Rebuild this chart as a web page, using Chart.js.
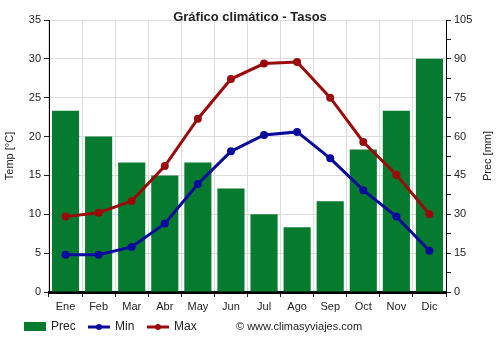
<!DOCTYPE html>
<html>
<head>
<meta charset="utf-8">
<script src="https://cdn.jsdelivr.net/npm/chart.js@4/dist/chart.umd.min.js"></script>
<style>
  html, body { margin: 0; padding: 0; background: #fff; }
  #wrap { width: 500px; height: 350px; position: relative; }
</style>
</head>
<body>
<div id="wrap"><canvas id="clima"></canvas></div>
<script>
/* Climate chart: monthly precipitation bars + min/max temperature lines */

const MONTHS = ['Ene','Feb','Mar','Abr','May','Jun','Jul','Ago','Sep','Oct','Nov','Dic'];
const PREC   = [70, 60, 50, 45, 50, 40, 30, 25, 35, 55, 70, 90];
const T_MIN  = [4.8, 4.8, 5.8, 8.8, 13.9, 18.1, 20.2, 20.6, 17.2, 13.1, 9.7, 5.3];
const T_MAX  = [9.7, 10.2, 11.7, 16.2, 22.3, 27.4, 29.4, 29.6, 25.0, 19.3, 15.1, 10.0];

const TEMP_MAX = 35, TEMP_STEP = 5;
const PREC_MAX = 105, PREC_STEP = 7.5, PREC_LABEL_STEP = 15;

const TITLE  = 'Gráfico climático - Tasos';
const CREDIT = '© www.climasyviajes.com';

const GREEN = '#067b30';
const BLUE  = '#0a0a9c';
const RED   = '#9b0a0a';
const INK   = '#222';
const GRID  = '#dcdcdc';
const FONT  = "'Liberation Sans', Arial, sans-serif";

// title + bottom legend are painted by hand so they can sit where the layout wants them
const decor = {
  id: 'decor',
  afterDraw(chart){
    const ctx = chart.ctx;
    ctx.save();
    ctx.fillStyle = INK;
    ctx.font = 'bold 13px ' + FONT;
    ctx.textAlign = 'center';
    ctx.textBaseline = 'middle';
    ctx.fillText(TITLE, 250, 17);

    // axis titles
    ctx.font = '11px ' + FONT;
    const midY = (chart.chartArea.top + chart.chartArea.bottom) / 2;
    ctx.save(); ctx.translate(10, midY); ctx.rotate(-Math.PI/2);
    ctx.fillText('Temp [°C]', 0, 0); ctx.restore();
    ctx.save(); ctx.translate(488, midY); ctx.rotate(-Math.PI/2);
    ctx.fillText('Prec [mm]', 0, 0); ctx.restore();

    // legend row
    const y = 327;
    ctx.font = '12px ' + FONT;
    ctx.textAlign = 'left';
    const ds = chart.data.datasets;
    const slots = [24, 88, 147];
    ds.forEach((d, i) => {
      const x = slots[i];
      if (d.type === 'bar') {
        ctx.fillStyle = d.backgroundColor;
        ctx.fillRect(x, y - 5, 22, 9);
      } else {
        ctx.strokeStyle = d.borderColor;
        ctx.lineWidth = 3;
        ctx.beginPath(); ctx.moveTo(x, y); ctx.lineTo(x + 22, y); ctx.stroke();
        ctx.fillStyle = d.borderColor;
        ctx.beginPath(); ctx.arc(x + 11, y, 3, 0, Math.PI*2); ctx.fill();
      }
      ctx.fillStyle = INK;
      ctx.fillText(d.label, x + 27, y);
    });
    ctx.font = '11px ' + FONT;
    ctx.fillText(CREDIT, 236, y);
    ctx.restore();
  }
};

new Chart(document.getElementById('clima'), {
  data: {
    labels: MONTHS,
    datasets: [
      { type: 'bar', label: 'Prec', data: PREC, yAxisID: 'yPrec',
        backgroundColor: GREEN, barPercentage: 0.82, categoryPercentage: 1, order: 3 },
      { type: 'line', label: 'Min', data: T_MIN, yAxisID: 'yTemp',
        borderColor: BLUE, backgroundColor: BLUE, borderWidth: 3,
        pointRadius: 4, pointBorderWidth: 0, pointHoverRadius: 4, tension: 0, order: 2 },
      { type: 'line', label: 'Max', data: T_MAX, yAxisID: 'yTemp',
        borderColor: RED, backgroundColor: RED, borderWidth: 3,
        pointRadius: 4, pointBorderWidth: 0, pointHoverRadius: 4, tension: 0, order: 1 },
    ]
  },
  options: {
    responsive: true, maintainAspectRatio: false, animation: false,
    layout: { padding: { top: 20, left: 0, right: 0, bottom: 0 } },
    plugins: { legend: { display: false }, title: { display: false }, tooltip: { enabled: false } },
    scales: {
      x: {
        offset: true,
        grid: { color: GRID, offset: true, tickLength: 5, tickColor: INK },
        border: { color: '#000', width: 3 },
        ticks: { color: INK, font: { size: 11, family: FONT }, padding: 3, maxRotation: 0 },
        afterFit: s => { s.height = 58; },
      },
      yTemp: {
        position: 'left', min: 0, max: TEMP_MAX,
        grid: { color: GRID, tickLength: 5, tickColor: INK },
        border: { color: '#000', width: 1 },
        ticks: { stepSize: TEMP_STEP, color: INK, font: { size: 11, family: FONT }, padding: 3 },
        afterFit: s => { s.width = 49; },
      },
      yPrec: {
        position: 'right', min: 0, max: PREC_MAX,
        grid: { drawOnChartArea: false, tickLength: 5, tickColor: INK },
        border: { color: '#000', width: 1 },
        ticks: {
          stepSize: PREC_STEP, color: INK, font: { size: 11, family: FONT }, padding: 3,
          callback: v => (v % PREC_LABEL_STEP === 0 ? v : ''),
        },
        afterFit: s => { s.width = 54; },
      },
    }
  },
  plugins: [decor]
});
</script>
</body>
</html>
